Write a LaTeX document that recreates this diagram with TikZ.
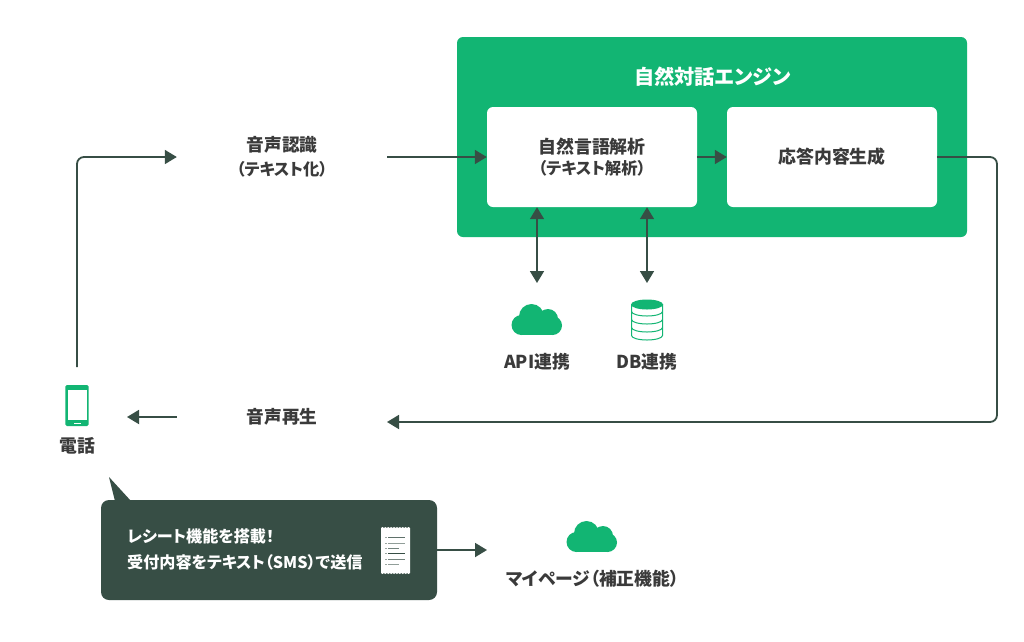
\documentclass[tikz,border=0pt]{standalone}
\usepackage{fontspec}
\setmainfont{Noto Sans CJK JP}[RawFeature=+palt]
\usetikzlibrary{arrows.meta,positioning,calc}
\definecolor{brandgreen}{HTML}{12B573}
\definecolor{darkgreen}{HTML}{374E45}
\definecolor{inkgrey}{HTML}{3A3A3A}
\tikzset{
  conn/.style={draw=darkgreen,line width=1.8pt,-{Triangle[length=12pt,width=14pt]},rounded corners=7pt},
  connboth/.style={draw=darkgreen,line width=1.8pt,{Triangle[length=12pt,width=14pt]}-{Triangle[length=12pt,width=14pt]}},
  inner/.style={fill=white,rounded corners=6pt,minimum width=210pt,minimum height=100pt,inner sep=0pt,align=center,text=inkgrey,font=\bfseries\fontsize{17.9}{22}\selectfont},
  slot/.style={minimum width=210pt,minimum height=60pt,inner sep=0pt,align=center,text=inkgrey,font=\bfseries\fontsize{17.7}{24}\selectfont},
  lab/.style={inner sep=0pt,text=inkgrey,font=\bfseries\fontsize{17.8}{20}\selectfont},
  pics/cloudicon/.style={code={
    \fill[brandgreen] (-5.5,-3.5) circle[radius=12.5];
    \fill[brandgreen] (11,-1) circle[radius=10];
    \fill[brandgreen] (-15.5,5) circle[radius=10];
    \fill[brandgreen] (15.5,5.5) circle[radius=9.5];
    \fill[brandgreen] (-15.5,0) rectangle (15.5,15);
  }}
}
\begin{document}
\begin{tikzpicture}[x=1pt,y=-1pt]
\useasboundingbox (0,0) rectangle (1024,641);
\fill[white] (0,0) rectangle (1024,641);

% Engine
\node[fill=brandgreen,rounded corners=6pt,minimum width=510pt,minimum height=200pt,inner sep=0pt] (engine) at (712,137) {};
\node[inner sep=0pt,text=white,font=\bfseries\fontsize{20.2}{24}\selectfont] (enginetitle) at (712.5,77) {自然対話エンジン};
\node[inner] (nlp) at (592,157) {自然言語解析\\[-1pt]{\fontsize{16.3}{20}\selectfont（テキスト解析）}};
\node[inner] (resp) at (832,157) {応答内容生成};

% Text slots
\node[slot] (asr) at (282,157) {音声認識\\{\fontsize{16.3}{20}\selectfont（テキスト化）}};
\node[slot] (play) at (282,417) {音声再生};

% Phone
\node[minimum width=24pt,minimum height=41pt,inner sep=0pt] (phone) at (77,405.5) {};
\fill[brandgreen,rounded corners=1.5pt] (65.3,385) rectangle (88.7,426);
\fill[white] (67.5,390) rectangle (86.5,420);
\fill[white] (73.5,422.6) rectangle (80.5,423.6);
\node[lab] (phonelabel) at (77,446) {電話};

% Callout
\fill[darkgreen] (109,477) -- (131,501) -- (115,501) -- cycle;
\node[fill=darkgreen,rounded corners=8pt,minimum width=336pt,minimum height=100pt,inner sep=0pt] (callout) at (269,550) {};
\node[anchor=west,inner sep=0pt,align=left,text=white,font=\bfseries\fontsize{16.1}{26}\selectfont] (callouttext) at (127,549) {レシート機能を搭載！\\受付内容をテキスト（SMS）で送信};

% Receipt
\fill[white] (381,528)
  \foreach \i in {1,...,10} { -- ++(1.45,-1) -- ++(1.45,1) }
  -- (410,573)
  \foreach \i in {1,...,10} { -- ++(-1.45,1) -- ++(-1.45,-1) }
  -- cycle;
\foreach \y/\xb/\c in {537/405/80,543/405/55,548/399/70,553/405/100,559/405/70,564/399/55}
  {\draw[darkgreen!\c,line width=1pt] (388,\y) -- (\xb,\y);
   \draw[darkgreen!50,line width=1pt] (385,\y) -- (387,\y);}

% Cloud icons and labels
\pic at (537,320) {cloudicon};
\coordinate (apiIcon) at (537,283);
\node[lab] (apilabel) at (537,362) {API連携};
\coordinate (dbIcon) at (647,283);
\node[lab] (dblabel) at (647,362) {DB連携};
\pic at (592,537) {cloudicon};
\node[lab] (mypage) at (592.5,578.5) {マイページ（補正機能）};
\coordinate (mypageIcon) at (487,550);

% Database icon
\draw[brandgreen,line width=1pt]
  (631.5,304) -- (631.5,335.5) arc[start angle=180,end angle=0,x radius=15.5,y radius=4.5] -- (662.5,304);
\foreach \y in {311.5,319.5,327.5}
  \draw[brandgreen,line width=1pt] (631.5,\y) arc[start angle=180,end angle=0,x radius=15.5,y radius=4.5];
\fill[brandgreen] (647,304.5) ellipse[x radius=16,y radius=5];

% Connectors
\coordinate (phoneTop) at (77,367);
\coordinate (respTurn) at (997,157);
\coordinate (returnEnd) at (387,422);
\coordinate (phoneArrow) at (127,417);
\draw[conn] (phoneTop) |- (asr.west);
\draw[conn] (asr.east) -- (nlp.west);
\draw[conn] (nlp.east) -- (resp.west);
\draw[conn] (resp.east) -- (respTurn) |- (returnEnd);
\draw[conn] (play.west) -- (phoneArrow);
\draw[conn] (callout.east) -- (mypageIcon);
\draw[connboth] ([xshift=-55pt]nlp.south) -- (apiIcon);
\draw[connboth] ([xshift=55pt]nlp.south) -- (dbIcon);
\end{tikzpicture}
\end{document}
